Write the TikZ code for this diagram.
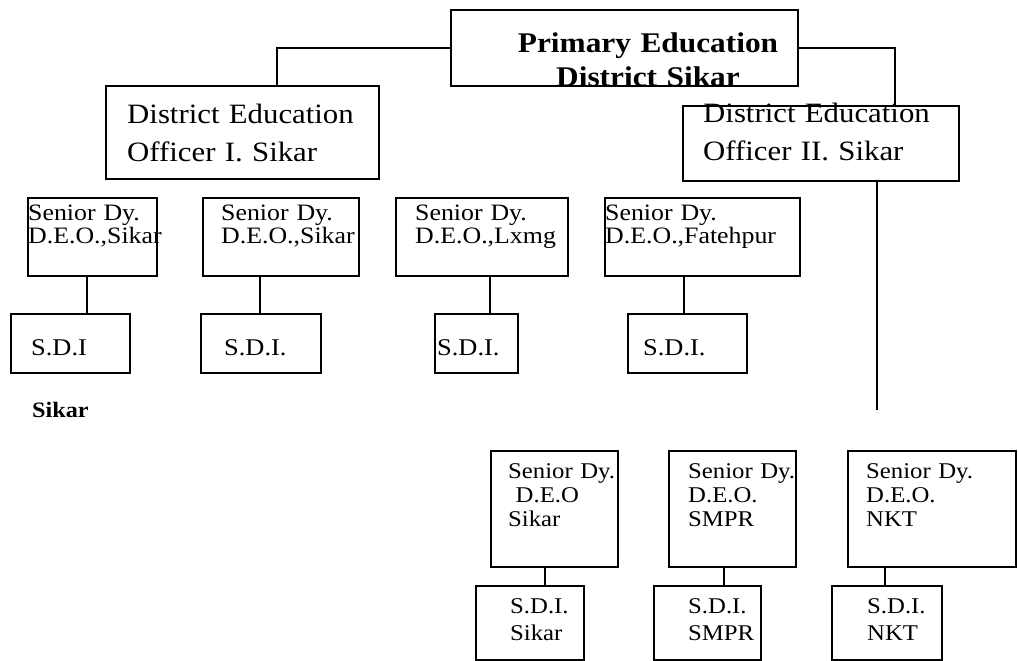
\documentclass[tikz,border=0pt]{standalone}
\usepackage{fontspec}
\setmainfont[FakeStretch=1.1]{Liberation Serif}
\begin{document}
\begin{tikzpicture}[x=1pt,y=-1pt,
  box/.style={draw,line width=1.6pt,rectangle,anchor=north west,inner sep=0pt},
  conn/.style={line width=1.6pt},
  txt/.style={anchor=base west,inner sep=0pt,align=left,text width=#1},
  txt/.default=200pt,
  deofont/.style={font=\fontsize{28}{38}\selectfont},
  sfont/.style={font=\fontsize{23.5}{23.5}\selectfont},
  dfont/.style={font=\fontsize{24}{24}\selectfont},
  bfont/.style={font=\fontsize{22.5}{24}\selectfont},
  efont/.style={font=\fontsize{22.5}{27}\selectfont}]
\useasboundingbox (0,0) rectangle (1018,661);
% top
\node[box,minimum width=347pt,minimum height=76pt] (top) at (450,9) {};
\node[anchor=base,inner sep=0pt,align=center,text width=330pt,font=\bfseries\fontsize{28.5}{34}\selectfont] (toptxt) at (648,53) {Primary Education\\District Sikar};
% DEO
\node[box,minimum width=273pt,minimum height=93pt] (deo1) at (105,85) {};
\node[txt=260pt,deofont] (deo1t) at (127,124) {District Education\\Officer I. Sikar};
\node[box,minimum width=276pt,minimum height=75pt] (deo2) at (682,105) {};
\node[txt=260pt,deofont] (deo2t) at (703,122) {District Education\\Officer II. Sikar};
% row 1 senior boxes
\node[box,minimum width=129pt,minimum height=78pt] (s1) at (27,197) {};
\node[box,minimum width=156pt,minimum height=78pt] (s2) at (202,197) {};
\node[box,minimum width=172pt,minimum height=78pt] (s3) at (395,197) {};
\node[box,minimum width=195pt,minimum height=78pt] (s4) at (604,197) {};
\node[txt,sfont] (s1t) at (28,220) {Senior Dy.\\D.E.O.,Sikar};
\node[txt,sfont] (s2t) at (221,220) {Senior Dy.\\D.E.O.,Sikar};
\node[txt,sfont] (s3t) at (415,220) {Senior Dy.\\D.E.O.,Lxmg};
\node[txt,sfont] (s4t) at (605,220) {Senior Dy.\\D.E.O.,Fatehpur};
% row 1 SDI boxes
\node[box,minimum width=119pt,minimum height=59pt] (d1) at (10,313) {};
\node[box,minimum width=120pt,minimum height=59pt] (d2) at (200,313) {};
\node[box,minimum width=83pt,minimum height=59pt] (d3) at (434,313) {};
\node[box,minimum width=119pt,minimum height=59pt] (d4) at (627,313) {};
\node[txt,dfont] (d1t) at (31,355) {S.D.I};
\node[txt,dfont] (d2t) at (224,355) {S.D.I.};
\node[txt,dfont] (d3t) at (437,355) {S.D.I.};
\node[txt,dfont] (d4t) at (643,355) {S.D.I.};
\node[anchor=base west,inner sep=0pt,font=\bfseries\fontsize{22}{22}\selectfont] (sikar) at (32,417) {Sikar};
% bottom senior boxes
\node[box,minimum width=127pt,minimum height=116pt] (b1) at (490,450) {};
\node[box,minimum width=127pt,minimum height=116pt] (b2) at (668,450) {};
\node[box,minimum width=168pt,minimum height=116pt] (b3) at (847,450) {};
\node[txt,bfont] (b1t) at (508,478) {Senior Dy.\\\ D.E.O\\Sikar};
\node[txt,bfont] (b2t) at (688,478) {Senior Dy.\\D.E.O.\\SMPR};
\node[txt,bfont] (b3t) at (866,478) {Senior Dy.\\D.E.O.\\NKT};
% bottom SDI boxes
\node[box,minimum width=108pt,minimum height=74pt] (e1) at (475,585) {};
\node[box,minimum width=107pt,minimum height=74pt] (e2) at (653,585) {};
\node[box,minimum width=110pt,minimum height=74pt] (e3) at (831,585) {};
\node[txt,efont] (e1t) at (510,613) {S.D.I.\\Sikar};
\node[txt,efont] (e2t) at (688,613) {S.D.I.\\SMPR};
\node[txt,efont] (e3t) at (867,613) {S.D.I.\\NKT};
% connector x positions
\coordinate (xl) at (277,0);
\coordinate (xr) at (895,0);
\coordinate (xd) at (877,0);
\coordinate (x1) at (87,0);
\coordinate (x2) at (260,0);
\coordinate (x3) at (490,0);
\coordinate (x4) at (684,0);
\coordinate (y1) at (545,0);
\coordinate (y2) at (724,0);
\coordinate (y3) at (885,0);
\coordinate (dend) at (877,410);
% connectors
\draw[conn] (top.west) -| (deo1.north -| xl);
\draw[conn] (top.east) -| (deo2.north -| xr);
\draw[conn] (deo2.south -| xd) -- (dend);
\draw[conn] (s1.south -| x1) -- (d1.north -| x1);
\draw[conn] (s2.south -| x2) -- (d2.north -| x2);
\draw[conn] (s3.south -| x3) -- (d3.north -| x3);
\draw[conn] (s4.south -| x4) -- (d4.north -| x4);
\draw[conn] (b1.south -| y1) -- (e1.north -| y1);
\draw[conn] (b2.south -| y2) -- (e2.north -| y2);
\draw[conn] (b3.south -| y3) -- (e3.north -| y3);
\end{tikzpicture}
\end{document}
